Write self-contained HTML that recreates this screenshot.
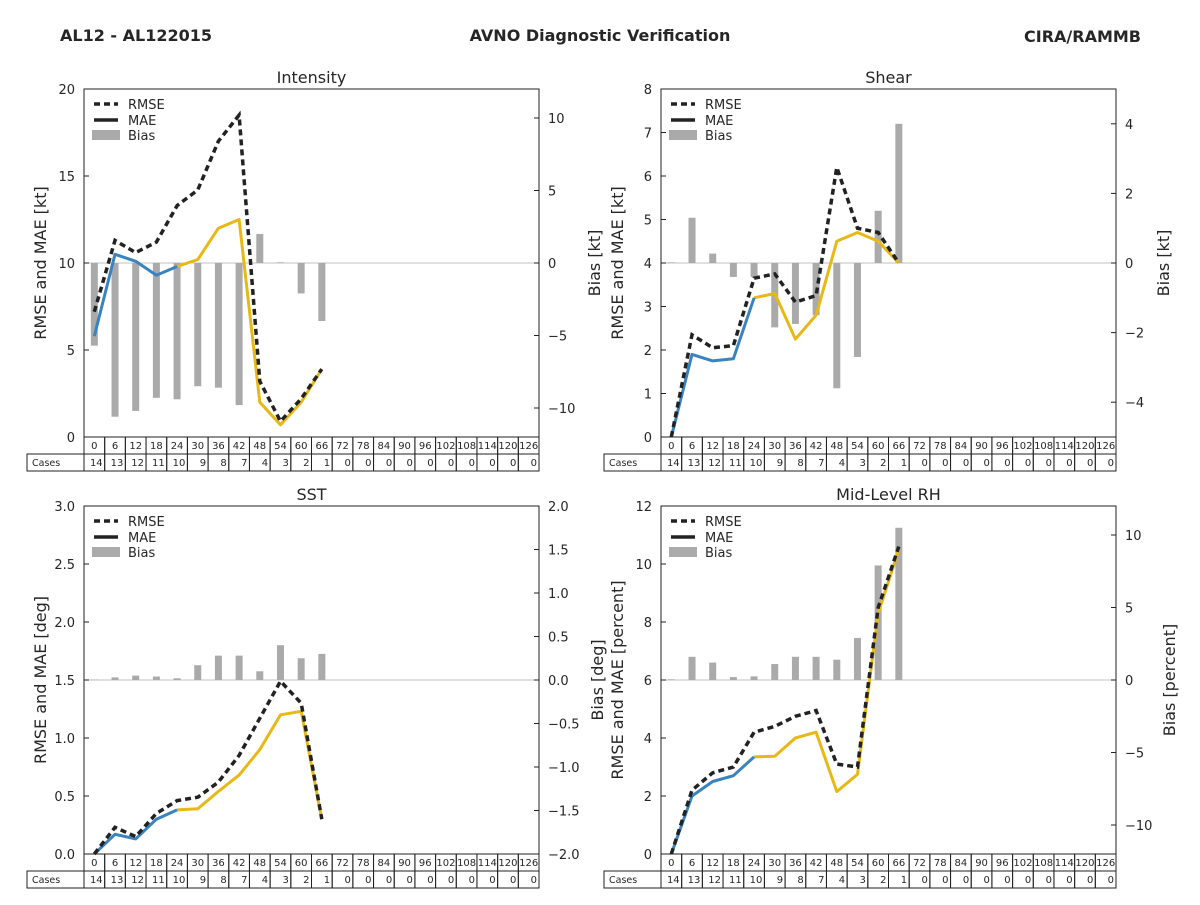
<!DOCTYPE html>
<html><head><meta charset="utf-8">
<style>
body{margin:0;background:#fff;font-family:"Liberation Sans","DejaVu Sans",sans-serif;}
svg text{font-family:"DejaVu Sans","Liberation Sans",sans-serif;fill:#262626;}
</style></head>
<body>
<svg id="chart" width="1200" height="900" xmlns="http://www.w3.org/2000/svg">
<text x="60" y="41" font-size="16" font-weight="bold">AL12 - AL122015</text>
<text x="600" y="41" font-size="16" font-weight="bold" text-anchor="middle">AVNO Diagnostic Verification</text>
<text x="1141" y="42" font-size="16" font-weight="bold" text-anchor="end">CIRA/RAMMB</text>
</svg>
<script>
const hours=[0,6,12,18,24,30,36,42,48,54,60,66,72,78,84,90,96,102,108,114,120,126];
const cases=[14,13,12,11,10,9,8,7,4,3,2,1,0,0,0,0,0,0,0,0,0,0];
const intRmse=[7.2,11.3,10.6,11.2,13.3,14.2,17.0,18.5,3.2,0.9,2.2,3.9];
const intMae=[5.8,10.5,10.1,9.3,9.8,10.2,12.0,12.5,2.0,0.7,2.0,3.9];
const intBias=[-5.7,-10.6,-10.2,-9.3,-9.4,-8.5,-8.6,-9.8,2.0,0.05,-2.1,-4.0];
const shRmse=[0,2.35,2.05,2.1,3.65,3.75,3.1,3.25,6.2,4.8,4.7,4.0];
const shMae=[0,1.9,1.75,1.8,3.2,3.3,2.25,2.8,4.5,4.7,4.5,4.0];
const shBias=[0.02,1.3,0.27,-0.4,-0.4,-1.85,-1.75,-1.5,-3.6,-2.7,1.5,4.0];
const sstRmse=[0,0.23,0.15,0.35,0.46,0.49,0.62,0.85,1.17,1.49,1.3,0.3];
const sstMae=[0,0.17,0.13,0.3,0.38,0.39,0.54,0.68,0.9,1.2,1.23,0.3];
const sstBias=[0.005,0.03,0.05,0.04,0.02,0.17,0.28,0.28,0.1,0.4,0.25,0.3];
const rhRmse=[0,2.2,2.8,3.0,4.2,4.4,4.75,4.95,3.1,3.0,8.5,10.6];
const rhMae=[0,2.0,2.5,2.7,3.35,3.37,4.0,4.2,2.15,2.75,8.3,10.5];
const rhBias=[0.05,1.6,1.2,0.2,0.25,1.1,1.6,1.6,1.4,2.9,7.9,10.5];
const intTicksL=[0,5,10,15,20], intTicksR=[10,5,0,-5,-10];
const shTicksL=[0,1,2,3,4,5,6,7,8], shTicksR=[4,2,0,-2,-4];
const sstTicksL=[0,0.5,1,1.5,2,2.5,3], sstTicksR=[2,1.5,1,0.5,0,-0.5,-1,-1.5,-2];
const rhTicksL=[0,2,4,6,8,10,12], rhTicksR=[10,5,0,-5,-10];

const svg=document.getElementById('chart');
const NS='http://www.w3.org/2000/svg';
function el(tag,attrs,parent,text){const e=document.createElementNS(NS,tag);for(const k in attrs)e.setAttribute(k,attrs[k]);if(text!==undefined)e.textContent=text;(parent||svg).appendChild(e);return e;}
function fmt(v,dec){let s=v.toFixed(dec);return s.replace('-','\u2212');}

function panel(o){
  const g=el('g',{});
  
  
  const X0=o.x,W=455,Y0=o.y,H=348,n=hours.length,cw=W/n;
  const xs=i=>X0+cw*(i+0.5);
  const yl=v=>Y0+H-(v-o.lmin)/(o.lmax-o.lmin)*H;
  const yr=v=>Y0+H-(v-o.rmin)/(o.rmax-o.rmin)*H;
  const t=el('text',{x:X0+W/2,y:Y0-6,'font-size':16,'text-anchor':'middle'},g,o.title);
  
  el('line',{x1:X0,x2:X0+W,y1:yr(0),y2:yr(0),stroke:'#c0c0c0','stroke-width':1},g);
  o.bias.forEach((b,i)=>{const y1=yr(0),y2=yr(b);
    const r=el('rect',{x:xs(i)-3.5,y:Math.min(y1,y2),width:7,height:Math.max(Math.abs(y2-y1),0.6),fill:'#aaaaaa'},g);
    });
  const pts=(arr,a,b)=>arr.slice(a,b).map((v,k)=>xs(k+a).toFixed(1)+','+yl(v).toFixed(1)).join(' ');
  const m2=el('polyline',{points:pts(o.mae,4,o.mae.length),fill:'none',stroke:'#e8b816','stroke-width':3,'stroke-linejoin':'round'},g);
  
  const m1=el('polyline',{points:pts(o.mae,0,5),fill:'none',stroke:'#3a83bf','stroke-width':3,'stroke-linejoin':'round'},g);
  
  const rm=el('polyline',{points:pts(o.rmse,0,o.rmse.length),fill:'none',stroke:'#222','stroke-width':3.5,'stroke-dasharray':'6,4'},g);
  
  el('rect',{x:X0,y:Y0,width:W,height:H,fill:'none',stroke:'#222','stroke-width':1},g);
  o.tl.forEach(v=>{const y=yl(v);el('line',{x1:X0,x2:X0+5,y1:y,y2:y,stroke:'#222'},g);
    el('text',{x:X0-9,y:y+5,'font-size':13,'text-anchor':'end'},g,fmt(v,o.ldec));});
  o.tr.forEach(v=>{const y=yr(v);el('line',{x1:X0+W-5,x2:X0+W,y1:y,y2:y,stroke:'#222'},g);
    el('text',{x:X0+W+9,y:y+5,'font-size':13},g,fmt(v,o.rdec));});
  const ly=el('text',{transform:`translate(${X0-38},${Y0+H/2}) rotate(-90)`,'font-size':16,'text-anchor':'middle'},g,o.ylab);
  
  const ry=el('text',{transform:`translate(${X0+W+o.rOff},${Y0+H/2}) rotate(-90)`,'font-size':16,'text-anchor':'middle'},g,o.rlab);
  
  // legend
  const lg=el('g',{},g);
  const lx=X0+10,ly0=Y0+15;
  el('line',{x1:lx,x2:lx+24,y1:ly0,y2:ly0,stroke:'#222','stroke-width':3.5,'stroke-dasharray':'6,4'},lg);
  el('text',{x:lx+34,y:ly0+5,'font-size':13},lg,'RMSE');
  el('line',{x1:lx,x2:lx+24,y1:ly0+16,y2:ly0+16,stroke:'#222','stroke-width':3.5},lg);
  el('text',{x:lx+34,y:ly0+21,'font-size':13},lg,'MAE');
  el('rect',{x:lx-2,y:ly0+26,width:28,height:10,fill:'#aaaaaa'},lg);
  el('text',{x:lx+34,y:ly0+36,'font-size':13},lg,'Bias');
  // table
  const tb=el('g',{},g);
  const ty=Y0+H;
  el('rect',{x:X0-57,y:ty+17,width:57,height:17,fill:'none',stroke:'#222'},tb);
  el('text',{x:X0-52,y:ty+29,'font-size':9.5},tb,'Cases');
  hours.forEach((h,i)=>{const cx=X0+cw*i;
    el('rect',{x:cx,y:ty,width:cw,height:17,fill:'none',stroke:'#222'},tb);
    el('rect',{x:cx,y:ty+17,width:cw,height:17,fill:'none',stroke:'#222'},tb);
    el('text',{x:cx+cw/2,y:ty+12,'font-size':10,'text-anchor':'middle'},tb,h);
    el('text',{x:cx+cw-2,y:ty+29,'font-size':10,'text-anchor':'end'},tb,cases[i]);});
}
panel({name:'intensity',title:'Intensity',x:84,y:89,lmin:0,lmax:20,rmin:-12,rmax:12,tl:intTicksL,tr:intTicksR,ldec:0,rdec:0,rmse:intRmse,mae:intMae,bias:intBias,ylab:'RMSE and MAE [kt]',rlab:'Bias [kt]',rOff:61});
panel({name:'shear',title:'Shear',x:661,y:89,lmin:0,lmax:8,rmin:-5,rmax:5,tl:shTicksL,tr:shTicksR,ldec:0,rdec:0,rmse:shRmse,mae:shMae,bias:shBias,ylab:'RMSE and MAE [kt]',rlab:'Bias [kt]',rOff:53});
panel({name:'sst',title:'SST',x:84,y:506,lmin:0,lmax:3,rmin:-2,rmax:2,tl:sstTicksL,tr:sstTicksR,ldec:1,rdec:1,rmse:sstRmse,mae:sstMae,bias:sstBias,ylab:'RMSE and MAE [deg]',rlab:'Bias [deg]',rOff:64});
panel({name:'mid-level-rh',title:'Mid-Level RH',x:661,y:506,lmin:0,lmax:12,rmin:-12,rmax:12,tl:rhTicksL,tr:rhTicksR,ldec:0,rdec:0,rmse:rhRmse,mae:rhMae,bias:rhBias,ylab:'RMSE and MAE [percent]',rlab:'Bias [percent]',rOff:59});
</script>
</body></html>
